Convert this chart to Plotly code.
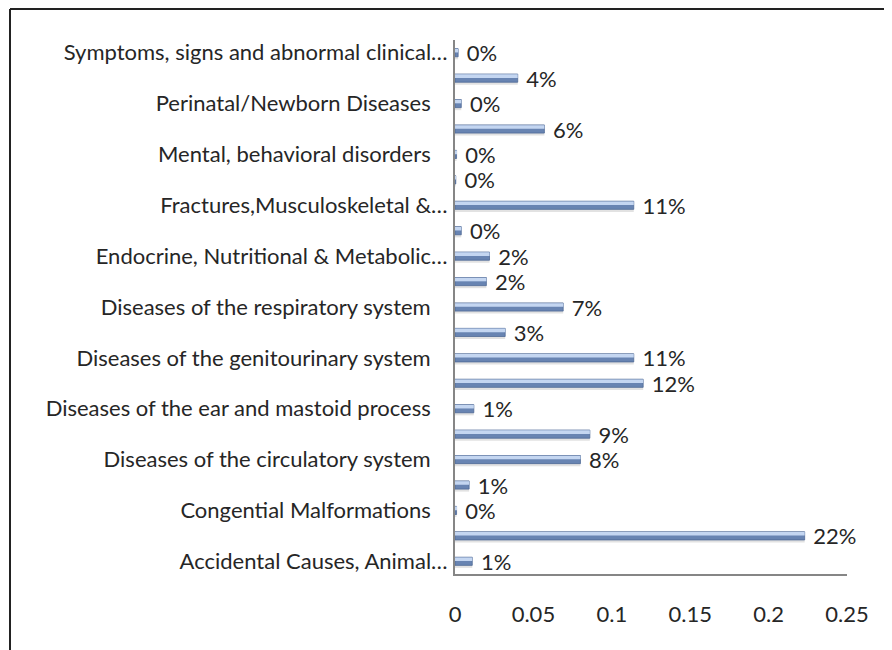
import plotly.graph_objects as go

# categories bottom -> top ("" = label not shown on the axis)
categories = [
    "Accidental Causes, Animal…",
    "",
    "Congential Malformations",
    "",
    "Diseases of the circulatory system",
    "",
    "Diseases of the ear and mastoid process",
    "",
    "Diseases of the genitourinary system",
    "",
    "Diseases of the respiratory system",
    "",
    "Endocrine, Nutritional & Metabolic…",
    "",
    "Fractures,Musculoskeletal &…",
    "",
    "Mental, behavioral disorders",
    "",
    "Perinatal/Newborn Diseases",
    "",
    "Symptoms, signs and abnormal clinical…",
]
shares = [0.011, 0.223, 0.001, 0.009, 0.080, 0.086, 0.012, 0.120, 0.114, 0.032, 0.069,
          0.020, 0.022, 0.004, 0.114, 0.0005, 0.001, 0.057, 0.004, 0.040, 0.002]
x_ticks = [0, 0.05, 0.1, 0.15, 0.2, 0.25]
x_tick_labels = ["0", "0.05", "0.1", "0.15", "0.2", "0.25"]

pos = list(range(len(categories)))
shown = [i for i, c in enumerate(categories) if c]
# pad labels that are not truncated, like the original
shown_text = [categories[i] if categories[i].endswith("…") else categories[i] + "\u00a0" * 3 for i in shown]

FONT = "Lato"
TXT = "#262626"
W = 892
H = 650
SHIFT = 8  # the page body adds an 8px margin, so pull everything up/left
L, R, T, B = 455 - SHIFT, 45 + SHIFT, 40 - SHIFT, 76 + SHIFT

fig = go.Figure()
# soft shadow under each bar
fig.add_trace(go.Bar(
    x=shares, y=pos, orientation="h", width=0.14, offset=-0.26,
    marker=dict(color="rgba(140,140,140,0.25)", line=dict(width=0)),
    hoverinfo="skip",
))
# main bar (darker lower part)
fig.add_trace(go.Bar(
    x=shares, y=pos, orientation="h", width=0.32,
    marker=dict(color="#6884b2", line=dict(color="#4f6a95", width=0.8)),
    text=[f"{round(v * 100):.0f}%" for v in shares],
    textposition="outside",
    texttemplate="\u00a0%{text}",
    textfont=dict(family=FONT, size=22, color=TXT),
    constraintext="none",
    cliponaxis=False,
    hoverinfo="skip",
))
# light upper part for the glossy look
fig.add_trace(go.Bar(
    x=shares, y=pos, orientation="h", width=0.14, offset=0.01,
    marker=dict(color="#c4d6f1", line=dict(width=0)),
    hoverinfo="skip",
))

# outer frame (top + left edges of the original picture)
pw = W - L - R
ph = H - T - B
fx = (10 - SHIFT - L) / pw
fy = (H - B - (9 - SHIFT)) / ph
frame = dict(type="line", xref="paper", yref="paper", line=dict(color="#222222", width=2))
fig.add_shape(frame, x0=fx, x1=(W - L) / pw, y0=fy, y1=fy)
fig.add_shape(frame, x0=fx, x1=fx, y0=fy, y1=-B / ph)

fig.update_layout(
    width=W,
    height=H,
    margin=dict(l=L, r=R, t=T, b=B),
    barmode="overlay",
    plot_bgcolor="white",
    paper_bgcolor="white",
    showlegend=False,
    font=dict(family=FONT, size=22, color=TXT),
    xaxis=dict(
        range=[0, 0.25],
        tickvals=x_ticks,
        ticktext=x_tick_labels,
        showgrid=False,
        zeroline=False,
        showline=True,
        linecolor="#868686",
        linewidth=2,
        ticks="",
        ticklabelstandoff=20,
        automargin=False,
    ),
    yaxis=dict(
        range=[-0.5, 20.5],
        tickvals=shown,
        ticktext=shown_text,
        showgrid=False,
        zeroline=False,
        showline=True,
        linecolor="#868686",
        linewidth=2,
        ticks="",
        ticklabelstandoff=1,
        automargin=False,
    ),
)

fig.write_html("out.html")
